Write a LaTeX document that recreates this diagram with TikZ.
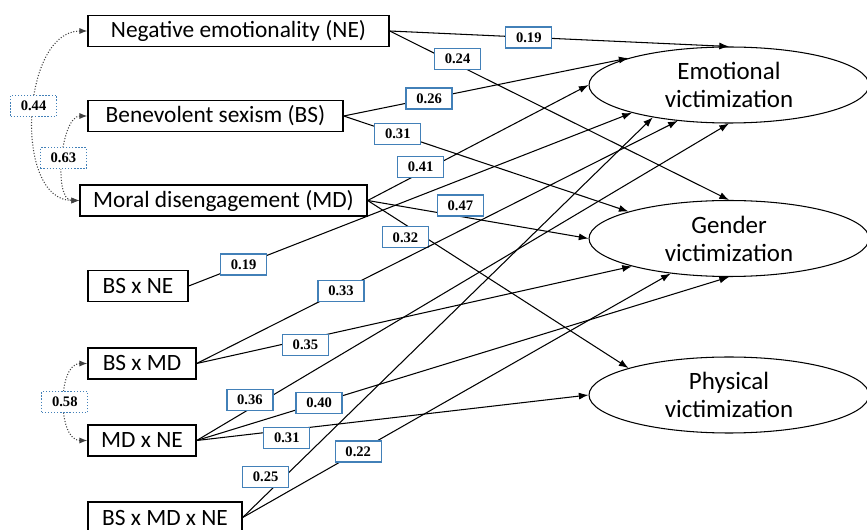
\documentclass[tikz,border=0pt]{standalone}
\usepackage{fontspec}
\setmainfont{Carlito}
\newfontfamily\coeffont{Liberation Serif}
\usetikzlibrary{shapes.geometric,arrows.meta}
\definecolor{coefblue}{RGB}{66,128,184}

\begin{document}
\begin{tikzpicture}[x=0.02cm,y=-0.02cm]
        \tikzset{
        sem box/.style={rectangle,draw,line width=0.8pt,minimum height=0.62cm,inner sep=0,font=\fontsize{13.3}{15}\selectfont},
        sem latent/.style={ellipse,draw,line width=0.6pt,minimum width=5.6cm,minimum height=1.52cm,inner sep=0,align=center,font=\fontsize{14.2}{16}\selectfont},
        sem coef/.style={rectangle,draw=coefblue,fill=white,text=black,solid,line width=0.75pt,minimum width=0.92cm,minimum height=0.42cm,inner sep=0,font=\coeffont\bfseries\fontsize{8.3}{9}\selectfont},
        sem cov coef/.style={sem coef,densely dotted},
        sem path/.style={line width=0.6pt,-{Latex[length=5.5pt,width=4pt]}},
        sem cov/.style={black!75,densely dotted,line width=0.6pt,{Latex[length=4.5pt,width=3.5pt]}-{Latex[length=4.5pt,width=3.5pt]}}
        }
        \useasboundingbox (0,0) rectangle (867,530);
        % observed variables
        \node[sem box,minimum width=6.02cm] (ne) at (238.5,31) {Negative emotionality (NE)};
        \node[sem box,minimum width=5.1cm] (bs) at (215.5,116) {Benevolent sexism (BS)};
        \node[sem box,minimum width=5.74cm] (md) at (223.5,200.5) {Moral disengagement (MD)};
        \node[sem box,minimum width=2.0cm] (bsne) at (138,286) {BS x NE};
        \node[sem box,minimum width=2.16cm] (bsmd) at (142,363.5) {BS x MD};
        \node[sem box,minimum width=2.16cm] (mdne) at (142,440.5) {MD x NE};
        \node[sem box,minimum width=3.08cm] (bsmdne) at (165,517.5) {BS x MD x NE};
        % outcomes
        \node[sem latent] (emo) at (729,85) {Emotional\\victimization};
        \node[sem latent] (gen) at (729,238.5) {Gender\\victimization};
        \node[sem latent] (phy) at (729,395) {Physical\\victimization};

        \path[sem path]
        (ne.east) edge node[sem coef,pos=0.41] {0.19} (emo.90)
        (ne.east) edge node[sem coef,pos=0.2,yshift=0.12cm] {0.24} (gen.90)
        (bs.east) edge node[sem coef,pos=0.3] {0.26} (emo.165)
        (bs.east) edge node[sem coef,pos=0.19] {0.31} (gen.165)
        (md.east) edge node[sem coef,pos=0.24,yshift=0.12cm] {0.41} (emo.180)
        (md.east) edge node[sem coef,pos=0.42,yshift=0.22cm] {0.47} (gen.180)
        (md.east) edge node[sem coef,pos=0.145,yshift=-0.25cm] {0.32} (phy.165)
        (bsne.east) edge node[sem coef,pos=0.124] {0.19} (emo.196)
        (bsmd.east) edge node[sem coef,pos=0.3] {0.33} (emo.215)
        (bsmd.east) edge node[sem coef,pos=0.25,yshift=-0.12cm] {0.35} (gen.196)
        (mdne.east) edge node[sem coef,pos=0.1,yshift=0.18cm] {0.36} (emo.270)
        (mdne.east) edge node[sem coef,pos=0.23] {0.40} (gen.270)
        (mdne.east) edge node[sem coef,pos=0.23,yshift=-0.16cm] {0.31} (phy.180)
        (bsmdne.east) edge node[sem coef,pos=0.056,yshift=0.36cm] {0.25} (emo.203)
        (bsmdne.east) edge node[sem coef,pos=0.27] {0.22} (gen.211)
        ;
        % covariances
        \path[sem cov]
        (ne.west) edge[out=180,in=180] node[sem cov coef,yshift=0.2cm] {0.44} (md.west)
        (bs.west) edge[out=180,in=180,looseness=0.8] node[sem cov coef] {0.63} (md.west)
        (bsmd.west) edge[out=180,in=180] node[sem cov coef] {0.58} (mdne.west)
        ;
    \end{tikzpicture}
\end{document}
